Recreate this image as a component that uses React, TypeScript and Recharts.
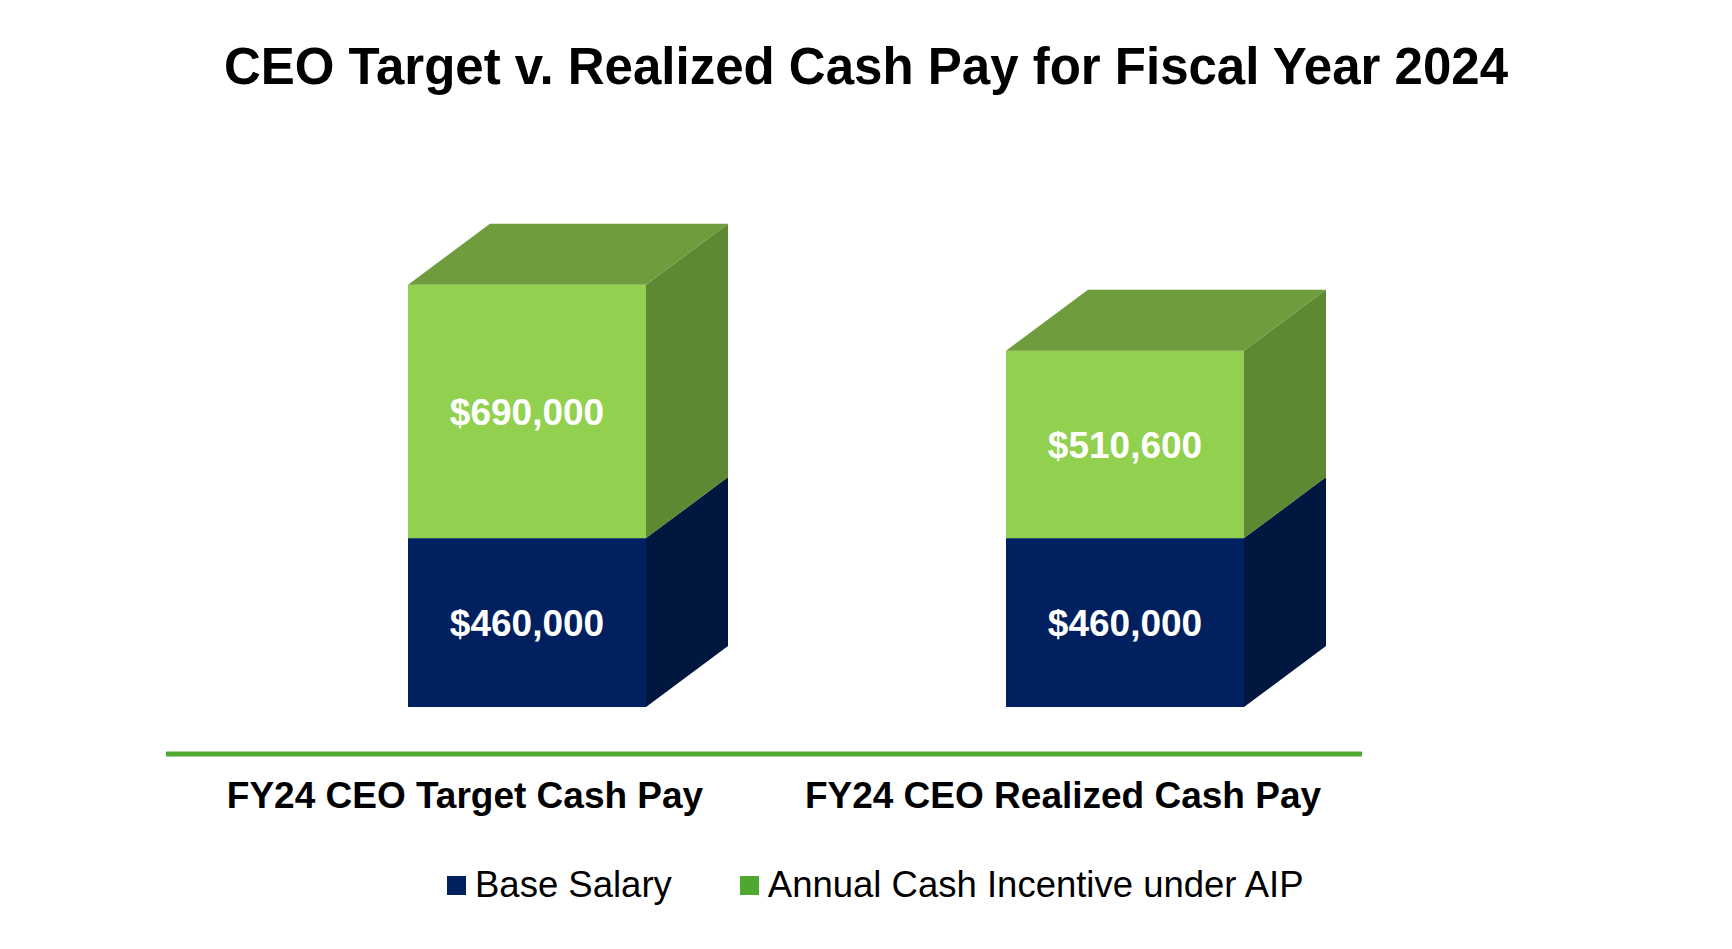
import { BarChart, Bar, XAxis, YAxis, LabelList } from 'recharts';

const categories = ['FY24 CEO Target Cash Pay', 'FY24 CEO Realized Cash Pay'];
const baseSalary = [460000, 460000];
const annualIncentive = [690000, 510600];

const data = categories.map((name, i) => ({
  name,
  base: baseSalary[i],
  aip: annualIncentive[i],
}));

const FONT = '"Liberation Sans", Arial, sans-serif';
// 3D look: front face is pushed right of the band center, depth goes up-right
const SHIFT = 62;
const DX = 82;
const DY = 61;

const fmt = (v: number) => '$' + v.toLocaleString('en-US');

function makeBox(front: string, side: string, top?: string) {
  return (props: any) => {
    const { width, height } = props;
    const x = props.x + SHIFT;
    const y = props.y;
    const r = x + width;
    return (
      <g>
        <rect x={x} y={y} width={width} height={height} fill={front} />
        <polygon
          points={`${r},${y} ${r + DX},${y - DY} ${r + DX},${y + height - DY} ${r},${y + height}`}
          fill={side}
        />
        {top && (
          <polygon
            points={`${x},${y} ${x + DX},${y - DY} ${r + DX},${y - DY} ${r},${y}`}
            fill={top}
          />
        )}
      </g>
    );
  };
}

const BaseBox = makeBox('#002060', '#01173f');
const AipBox = makeBox('#92d050', '#5e8933', '#6f9c3c');

const ValueLabel = (props: any) => {
  const { x, y, width, height, value } = props;
  return (
    <text
      x={x + SHIFT + width / 2}
      y={y + height / 2}
      dy="0.36em"
      textAnchor="middle"
      fill="#ffffff"
      fontFamily={FONT}
      fontWeight="bold"
      fontSize={37}
    >
      {fmt(value)}
    </text>
  );
};

const CategoryTick = (props: any) => {
  const { x, y, payload } = props;
  return (
    <text
      x={x}
      y={y}
      dy="0.71em"
      textAnchor="middle"
      fill="#000000"
      fontFamily={FONT}
      fontWeight="bold"
      fontSize={37}
    >
      {payload.value}
    </text>
  );
};

const legendItems = [
  { label: 'Base Salary', color: '#002060' },
  { label: 'Annual Cash Incentive under AIP', color: '#4ea72e' },
];

export default function App() {
  return (
    <div
      style={{
        position: 'absolute',
        left: 0,
        top: 0,
        width: 1732,
        height: 949,
        background: '#ffffff',
        fontFamily: FONT,
      }}
    >
      <div
        style={{
          position: 'absolute',
          top: 41,
          left: 0,
          width: 1732,
          textAlign: 'center',
          fontSize: 51,
          fontWeight: 'bold',
          lineHeight: 1,
          color: '#000',
        }}
      >
        CEO Target v. Realized Cash Pay for Fiscal Year 2024
      </div>

      <BarChart
        width={1732}
        height={949}
        data={data}
        margin={{ top: 193, right: 370, left: 166, bottom: 0 }}
        barSize={238}
      >
        <XAxis
          dataKey="name"
          height={195}
          axisLine={{ stroke: '#4ea72e', strokeWidth: 5 }}
          tickLine={false}
          tickSize={0}
          tickMargin={28}
          tick={<CategoryTick />}
        />
        <YAxis hide domain={[-128000, 1400000]} />
        <Bar dataKey="base" stackId="a" shape={BaseBox} isAnimationActive={false}>
          <LabelList dataKey="base" content={<ValueLabel />} />
        </Bar>
        <Bar dataKey="aip" stackId="a" shape={AipBox} isAnimationActive={false}>
          <LabelList dataKey="aip" content={<ValueLabel />} />
        </Bar>
      </BarChart>

      <div
        style={{
          position: 'absolute',
          top: 865,
          left: 447,
          display: 'flex',
          alignItems: 'center',
          height: 40,
        }}
      >
        {legendItems.map((item, i) => (
          <div
            key={item.label}
            style={{ display: 'flex', alignItems: 'center', marginLeft: i === 0 ? 0 : 68 }}
          >
            <span
              style={{ display: 'inline-block', width: 19, height: 19, background: item.color }}
            />
            <span style={{ marginLeft: 9, fontSize: 36.5, lineHeight: '40px', color: '#000' }}>
              {item.label}
            </span>
          </div>
        ))}
      </div>
    </div>
  );
}
